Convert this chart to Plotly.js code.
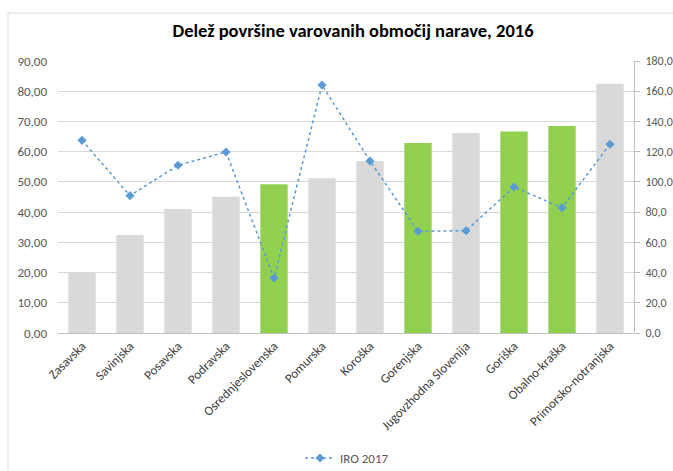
<!DOCTYPE html>
<html>
<head>
<meta charset="utf-8">
<script src="https://cdn.plot.ly/plotly-3.0.1.min.js"></script>
<style>html,body{margin:0;padding:0;background:#fff;}#chart{width:673px;height:471px;}</style>
</head>
<body>
<div id="chart"></div>
<script>
const categories = ["Zasavska","Savinjska","Posavska","Podravska","Osrednjeslovenska","Pomurska","Koroška","Gorenjska","Jugovzhodna Slovenija","Goriška","Obalno-kraška","Primorsko-notranjska"];
const delez2016 = [20.0, 32.4, 41.0, 45.1, 49.2, 51.2, 56.9, 62.9, 66.2, 66.7, 68.5, 82.5];
const iro2017 = [127.5, 90.9, 111.0, 119.8, 36.4, 164.1, 113.8, 67.3, 67.7, 96.6, 82.9, 124.9];
const highlighted = ["Osrednjeslovenska","Gorenjska","Goriška","Obalno-kraška"];

const barColors = categories.map(c => highlighted.includes(c) ? "#92d050" : "#d9d9d9");

const L = 58, R = 634, T = 61, B = 333;
const pw = R - L, ph = B - T;
const px = x => (x - L) / pw;
const py = y => (B - y) / ph;

const font = "Calibri, Carlito, 'Liberation Sans Narrow', 'Open Sans', sans-serif";

const data = [
  {
    type: "bar",
    x: categories,
    y: delez2016,
    marker: {color: barColors},
    showlegend: false,
    hoverinfo: "x+y"
  },
  {
    type: "scatter",
    mode: "lines+markers",
    name: "IRO 2017",
    x: categories,
    y: iro2017,
    yaxis: "y2",
    line: {color: "#5b9bd5", width: 1.5, dash: "dot"},
    marker: {color: "#5b9bd5", size: 7, symbol: "diamond"}
  }
];

const layout = {
  width: 673, height: 471,
  margin: {l: L, r: 673 - R, t: T, b: 471 - B, pad: 0, autoexpand: false},
  paper_bgcolor: "#ffffff",
  plot_bgcolor: "#ffffff",
  separators: ", ",
  font: {family: font, size: 13, color: "#595959"},
  title: {
    text: "<b>Delež površine varovanih območij narave, 2016</b>",
    font: {family: font, size: 18.5, color: "#000000"},
    x: 353 / 673, xanchor: "center", xref: "container",
    y: 34, yref: "container", yanchor: "middle"
  },
  bargap: 0.43,
  xaxis: {
    type: "category",
    range: [-0.5, categories.length - 0.5],
    tickangle: -45,
    showgrid: false,
    showline: false,
    ticks: "",
    ticklabelstandoff: 2,
    tickfont: {size: 13, color: "#404040"},
    automargin: false
  },
  yaxis: {
    range: [0, 90],
    dtick: 10,
    tickformat: ".2f",
    showgrid: true,
    gridcolor: "#d9d9d9",
    gridwidth: 1,
    zeroline: true,
    zerolinecolor: "#bfbfbf",
    zerolinewidth: 1,
    showline: false,
    ticks: "",
    ticklabelstandoff: 10,
    tickfont: {size: 13, color: "#595959"},
    automargin: false
  },
  yaxis2: {
    overlaying: "y",
    side: "right",
    range: [0, 180],
    dtick: 20,
    tickformat: ".1f",
    showgrid: false,
    zeroline: false,
    showline: true,
    linecolor: "#bfbfbf",
    linewidth: 1,
    ticks: "outside",
    ticklen: 5,
    tickcolor: "#bfbfbf",
    ticklabelstandoff: 3,
    tickfont: {size: 12, color: "#595959"},
    automargin: false
  },
  showlegend: true,
  legend: {
    orientation: "h",
    x: px(347), xanchor: "center",
    y: py(458), yanchor: "middle",
    font: {size: 13, color: "#595959"},
    bgcolor: "rgba(0,0,0,0)"
  },
  shapes: [
    {type: "line", xref: "paper", yref: "paper", x0: px(8), x1: px(680), y0: py(13), y1: py(13), line: {color: "#d9d9d9", width: 1}},
    {type: "line", xref: "paper", yref: "paper", x0: px(8), x1: px(8), y0: py(13), y1: py(480), line: {color: "#d9d9d9", width: 1}}
  ]
};

Plotly.newPlot("chart", data, layout, {displayModeBar: false, staticPlot: true});
</script>
</body>
</html>
